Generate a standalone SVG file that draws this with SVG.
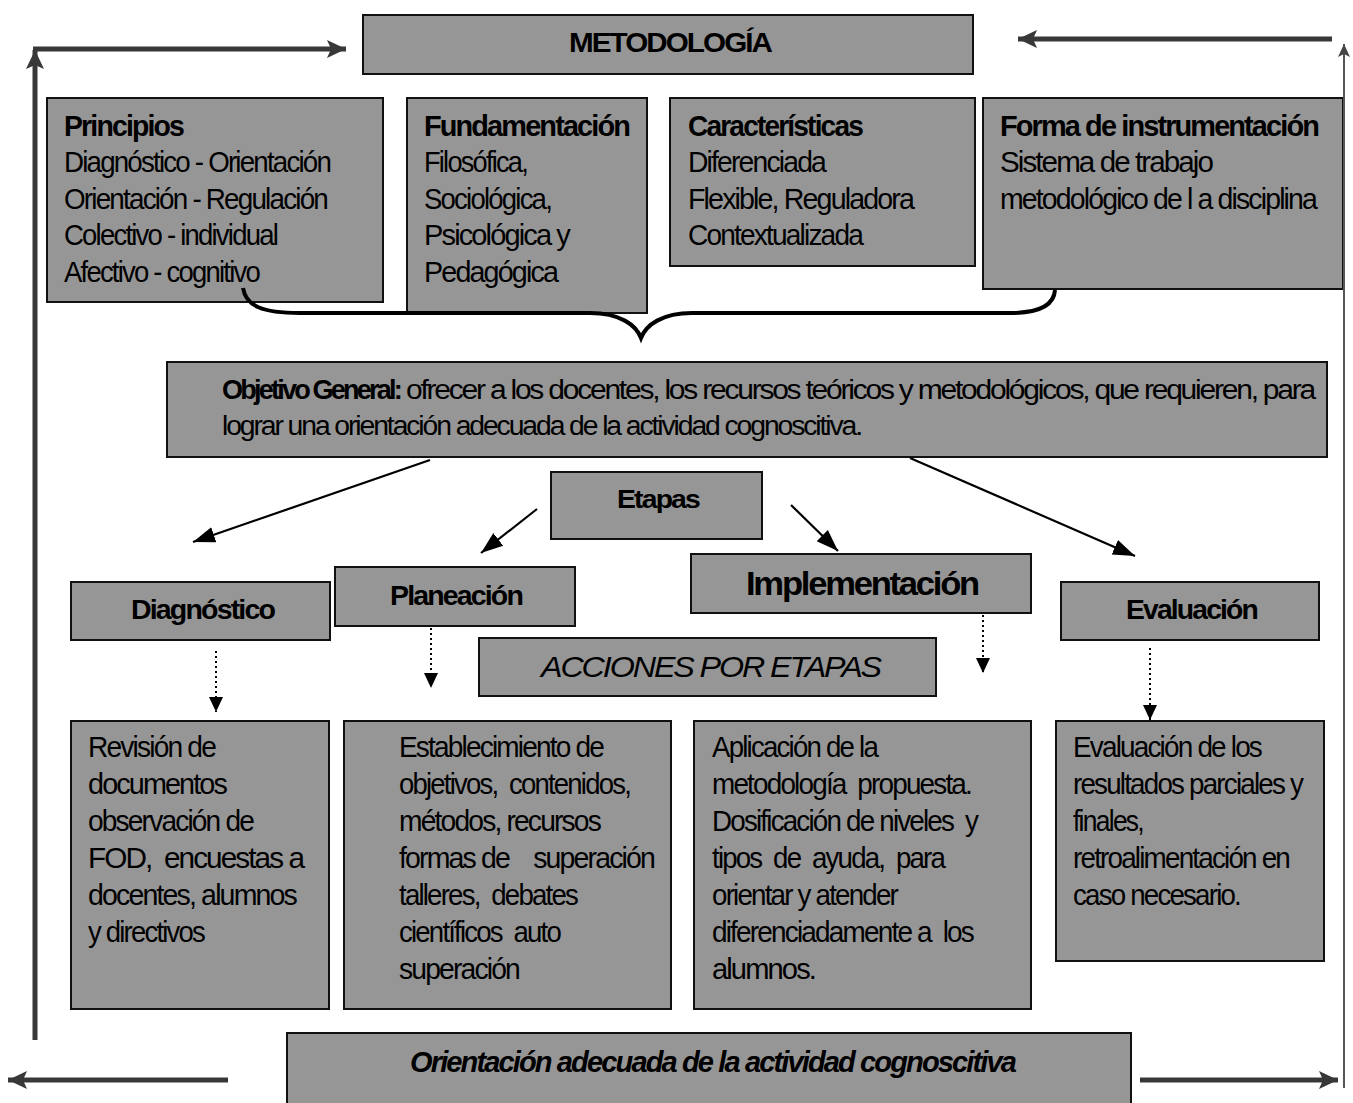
<svg xmlns="http://www.w3.org/2000/svg" width="1353" height="1103" viewBox="0 0 1353 1103">
<style>
.box{fill:#969696;stroke:#111;stroke-width:2}
text{font-family:"Liberation Sans",Arial,sans-serif;fill:#000;letter-spacing:-0.065em}
.b{font-weight:bold}
.t{font-size:30px}
.ln{stroke:#000;stroke-width:2.2;fill:none}
.thick{stroke:#383838;stroke-width:5;fill:none}
.dot{stroke:#000;stroke-width:2;stroke-dasharray:2 3;fill:none}
</style>
<defs>
<marker id="ah" markerUnits="userSpaceOnUse" markerWidth="24" markerHeight="20" viewBox="0 0 24 20" refX="22" refY="10" orient="auto"><path d="M0,2 L22,10 L0,18 Z" fill="#000"/></marker>
<marker id="ahs" markerUnits="userSpaceOnUse" markerWidth="16" markerHeight="16" viewBox="0 0 16 16" refX="15" refY="8" orient="auto"><path d="M0,1 L15,8 L0,15 Z" fill="#000"/></marker>
<marker id="aht" markerUnits="userSpaceOnUse" markerWidth="20" markerHeight="20" viewBox="0 0 20 20" refX="19" refY="10" orient="auto"><path d="M0,1 L19,10 L0,19 L4,10 Z" fill="#383838"/></marker>
<marker id="ahr" markerUnits="userSpaceOnUse" markerWidth="14" markerHeight="14" viewBox="0 0 14 14" refX="13" refY="7" orient="auto"><path d="M0,1 L13,7 L0,13 L3,7 Z" fill="#444"/></marker>
</defs>

<g id="metodologia"><rect class="box" x="363" y="15" width="610" height="59"/>
<text class="b" x="569" y="52" font-size="27" textLength="202" lengthAdjust="spacingAndGlyphs">METODOLOGÍA</text></g>

<g id="principios"><rect class="box" x="47" y="98" width="336" height="204"/>
<text class="t b" x="64" y="136" textLength="119" lengthAdjust="spacingAndGlyphs">Principios</text>
<text class="t" x="64" y="172" textLength="266" lengthAdjust="spacingAndGlyphs">Diagnóstico - Orientación</text>
<text class="t" x="64" y="209" textLength="263" lengthAdjust="spacingAndGlyphs">Orientación - Regulación</text>
<text class="t" x="64" y="245" textLength="213" lengthAdjust="spacingAndGlyphs">Colectivo - individual</text>
<text class="t" x="64" y="282" textLength="195" lengthAdjust="spacingAndGlyphs">Afectivo - cognitivo</text></g>

<g id="fundamentacion"><rect class="box" x="407" y="98" width="240" height="215"/>
<text class="t b" x="424" y="136" textLength="205" lengthAdjust="spacingAndGlyphs">Fundamentación</text>
<text class="t" x="424" y="172" textLength="103" lengthAdjust="spacingAndGlyphs">Filosófica,</text>
<text class="t" x="424" y="209" textLength="127" lengthAdjust="spacingAndGlyphs">Sociológica,</text>
<text class="t" x="424" y="245" textLength="145" lengthAdjust="spacingAndGlyphs">Psicológica y</text>
<text class="t" x="424" y="282" textLength="133" lengthAdjust="spacingAndGlyphs">Pedagógica</text></g>

<g id="caracteristicas"><rect class="box" x="670" y="98" width="305" height="168"/>
<text class="t b" x="688" y="136" textLength="174" lengthAdjust="spacingAndGlyphs">Características</text>
<text class="t" x="688" y="172" textLength="137" lengthAdjust="spacingAndGlyphs">Diferenciada</text>
<text class="t" x="688" y="209" textLength="225" lengthAdjust="spacingAndGlyphs">Flexible, Reguladora</text>
<text class="t" x="688" y="245" textLength="174" lengthAdjust="spacingAndGlyphs">Contextualizada</text></g>

<g id="forma"><rect class="box" x="983" y="98" width="360" height="191"/>
<text class="t b" x="1000" y="136" textLength="318" lengthAdjust="spacingAndGlyphs">Forma de instrumentación</text>
<text class="t" x="1000" y="172" textLength="212" lengthAdjust="spacingAndGlyphs">Sistema de trabajo</text>
<text class="t" x="1000" y="209" textLength="316" lengthAdjust="spacingAndGlyphs">metodológico de l a disciplina</text></g>

<g id="objetivo"><rect class="box" x="167" y="362" width="1160" height="95"/>
<text class="b" x="222" y="399" font-size="27" style="letter-spacing:-2.8px" textLength="178" lengthAdjust="spacingAndGlyphs">Objetivo General:</text>
<text x="406" y="399" font-size="27" style="letter-spacing:-2px" textLength="908" lengthAdjust="spacingAndGlyphs">ofrecer a los docentes, los recursos teóricos y metodológicos, que requieren, para</text>
<text x="222" y="435" font-size="27" style="letter-spacing:-2px" textLength="639" lengthAdjust="spacingAndGlyphs">lograr una orientación adecuada de la actividad cognoscitiva.</text></g>

<g id="etapas"><rect class="box" x="551" y="472" width="211" height="67"/>
<text class="b" x="617" y="508" font-size="26" textLength="82" lengthAdjust="spacingAndGlyphs">Etapas</text></g>

<g id="diagnostico"><rect class="box" x="71" y="582" width="259" height="58"/>
<text class="b" x="131" y="619" font-size="28" textLength="143" lengthAdjust="spacingAndGlyphs">Diagnóstico</text></g>

<g id="planeacion"><rect class="box" x="335" y="567" width="240" height="59"/>
<text class="b" x="390" y="605" font-size="28" textLength="132" lengthAdjust="spacingAndGlyphs">Planeación</text></g>

<g id="implementacion"><rect class="box" x="691" y="554" width="340" height="59"/>
<text class="b" x="746" y="595" font-size="34" textLength="232" lengthAdjust="spacingAndGlyphs">Implementación</text></g>

<g id="evaluacion"><rect class="box" x="1061" y="582" width="258" height="58"/>
<text class="b" x="1126" y="619" font-size="28" textLength="131" lengthAdjust="spacingAndGlyphs">Evaluación</text></g>

<g id="acciones"><rect class="box" x="479" y="638" width="457" height="58"/>
<text x="541" y="677" font-size="29" font-style="italic" textLength="339" lengthAdjust="spacingAndGlyphs">ACCIONES POR ETAPAS</text></g>

<g id="accion-diagnostico"><rect class="box" x="71" y="721" width="258" height="288"/>
<text class="t" x="88" y="757" textLength="127" lengthAdjust="spacingAndGlyphs">Revisión de</text>
<text class="t" x="88" y="794" textLength="138" lengthAdjust="spacingAndGlyphs">documentos</text>
<text class="t" x="88" y="831" textLength="165" lengthAdjust="spacingAndGlyphs">observación de</text>
<text class="t" x="88" y="868" textLength="215" lengthAdjust="spacingAndGlyphs" xml:space="preserve">FOD,  encuestas a</text>
<text class="t" x="88" y="905" textLength="208" lengthAdjust="spacingAndGlyphs">docentes, alumnos</text>
<text class="t" x="88" y="942" textLength="116" lengthAdjust="spacingAndGlyphs">y directivos</text></g>

<g id="accion-planeacion"><rect class="box" x="344" y="721" width="327" height="288"/>
<text class="t" x="399" y="757" textLength="204" lengthAdjust="spacingAndGlyphs">Establecimiento de</text>
<text class="t" x="399" y="794" textLength="231" lengthAdjust="spacingAndGlyphs" xml:space="preserve">objetivos,  contenidos,</text>
<text class="t" x="399" y="831" textLength="201" lengthAdjust="spacingAndGlyphs">métodos, recursos</text>
<text class="t" x="399" y="868" textLength="255" lengthAdjust="spacingAndGlyphs" xml:space="preserve">formas de    superación</text>
<text class="t" x="399" y="905" textLength="178" lengthAdjust="spacingAndGlyphs" xml:space="preserve">talleres,  debates</text>
<text class="t" x="399" y="942" textLength="161" lengthAdjust="spacingAndGlyphs" xml:space="preserve">científicos  auto</text>
<text class="t" x="399" y="979" textLength="120" lengthAdjust="spacingAndGlyphs">superación</text></g>

<g id="accion-implementacion"><rect class="box" x="694" y="721" width="337" height="288"/>
<text class="t" x="712" y="757" textLength="165" lengthAdjust="spacingAndGlyphs">Aplicación de la</text>
<text class="t" x="712" y="794" textLength="259" lengthAdjust="spacingAndGlyphs" xml:space="preserve">metodología  propuesta.</text>
<text class="t" x="712" y="831" textLength="265" lengthAdjust="spacingAndGlyphs" xml:space="preserve">Dosificación de niveles  y</text>
<text class="t" x="712" y="868" textLength="232" lengthAdjust="spacingAndGlyphs" xml:space="preserve">tipos  de  ayuda,  para</text>
<text class="t" x="712" y="905" textLength="185" lengthAdjust="spacingAndGlyphs">orientar y atender</text>
<text class="t" x="712" y="942" textLength="261" lengthAdjust="spacingAndGlyphs" xml:space="preserve">diferenciadamente a  los</text>
<text class="t" x="712" y="979" textLength="103" lengthAdjust="spacingAndGlyphs">alumnos.</text></g>

<g id="accion-evaluacion"><rect class="box" x="1056" y="721" width="268" height="240"/>
<text class="t" x="1073" y="757" textLength="188" lengthAdjust="spacingAndGlyphs">Evaluación de los</text>
<text class="t" x="1073" y="794" textLength="229" lengthAdjust="spacingAndGlyphs">resultados parciales y</text>
<text class="t" x="1073" y="831" textLength="70" lengthAdjust="spacingAndGlyphs">finales,</text>
<text class="t" x="1073" y="868" textLength="216" lengthAdjust="spacingAndGlyphs">retroalimentación en</text>
<text class="t" x="1073" y="905" textLength="167" lengthAdjust="spacingAndGlyphs">caso necesario.</text></g>

<g id="orientacion"><rect class="box" x="287" y="1033" width="844" height="72"/>
<text class="b" x="410" y="1072" font-size="29" font-style="italic" textLength="605" lengthAdjust="spacingAndGlyphs">Orientación adecuada de la actividad cognoscitiva</text></g>

<g id="connectors">
<path class="thick" d="M35,1040 V50" marker-end="url(#aht)"/>
<path class="thick" d="M33,49 H346" marker-end="url(#aht)"/>
<path class="thick" d="M1332,39 H1018" marker-end="url(#aht)"/>
<path d="M1344,1088 V44" stroke="#555" stroke-width="2" fill="none" marker-end="url(#ahr)"/>
<path class="thick" d="M228,1080 H8" marker-end="url(#aht)"/>
<path class="thick" d="M1140,1080 H1338" marker-end="url(#aht)"/>
<path d="M243,288 C246,306 262,313 300,313 L590,313 C620,313 636,325 641,338 C646,325 662,313 692,313 L1010,313 C1040,313 1054,305 1055,290" stroke="#000" stroke-width="4" fill="none"/>
<path class="ln" d="M430,460 L193,542" marker-end="url(#ah)"/>
<path class="ln" d="M537,509 L481,553" marker-end="url(#ah)"/>
<path class="ln" d="M791,505 L838,551" marker-end="url(#ah)"/>
<path class="ln" d="M910,458 L1135,556" marker-end="url(#ah)"/>
<path class="dot" d="M216,651 V712" marker-end="url(#ahs)"/>
<path class="dot" d="M431,628 V688" marker-end="url(#ahs)"/>
<path class="dot" d="M983,615 V673" marker-end="url(#ahs)"/>
<path class="dot" d="M1150,648 V720" marker-end="url(#ahs)"/>
</g>
</svg>
